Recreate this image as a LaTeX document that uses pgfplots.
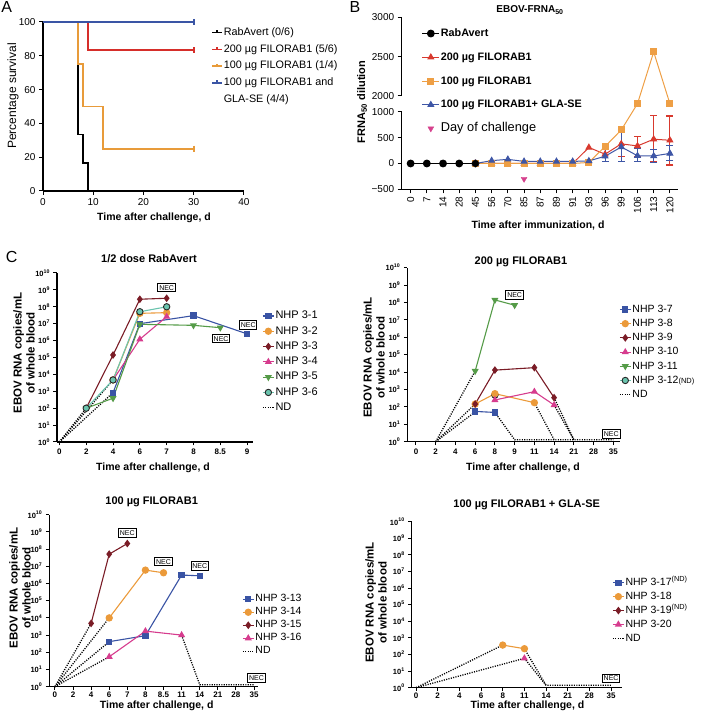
\documentclass[border=0pt]{standalone}
\usepackage{fontspec}
\setmainfont{Liberation Sans}
\usepackage{pgfplots}
\pgfplotsset{compat=1.18}
\newcommand{\fs}[1]{\fontsize{#1}{#1}\selectfont}
\definecolor{ared}{HTML}{D62E2A}
\definecolor{aorange}{HTML}{E89B3A}
\definecolor{ablue}{HTML}{3A55A5}
\definecolor{bred}{HTML}{D8392E}
\definecolor{borange}{HTML}{EE9F45}
\definecolor{bblue}{HTML}{3E56A6}
\definecolor{bmag}{HTML}{D6418D}
\definecolor{cblue}{HTML}{3953A4}
\definecolor{corange}{HTML}{EB9A3A}
\definecolor{cdred}{HTML}{7A1C26}
\definecolor{cmag}{HTML}{D63C8E}
\definecolor{cgreen}{HTML}{559B48}
\definecolor{cteal}{HTML}{6BC4AE}
\tikzset{nec/.style={draw=black, line width=1pt, fill=white, inner xsep=1.3pt, inner ysep=1.8pt, font=\fs{7}, text height=5pt, text depth=0pt},
  myND/.style={black, line width=1.3pt, dash pattern=on 1.1pt off 1.3pt},
  sA/.style={color=cblue, line width=1.1pt, mark=square*, mark size=2.6pt},
  sB/.style={color=corange, line width=1.1pt, mark=*, mark size=3.1pt},
  sC/.style={color=cdred, line width=1.1pt, mark=diamond*, mark size=3pt},
  sD/.style={color=cmag, line width=1.1pt, mark=triangle*, mark size=3pt},
  sE/.style={color=cgreen, line width=1.1pt, mark=triangle*, mark size=3pt, mark options={rotate=180}},
  sF/.style={color=cteal, line width=1.1pt, mark=*, mark size=3.2pt, mark options={fill=cteal, draw=black!85, line width=0.9pt}}}
\pgfplotsset{
  prism/.style={scale only axis, anchor=south west, axis x line=bottom, axis y line=left,
    axis line style={line width=1.2pt,-}, every tick/.style={line width=1pt,black},
    major tick length=3.5pt, tick align=outside, clip=false,
    /pgf/number format/assume math mode=true,
    legend cell align=left,
    legend style={draw=none, fill=none, anchor=north west, inner sep=0pt}}}
\begin{document}
\begin{tikzpicture}
\useasboundingbox (0,0) rectangle (703pt,720pt);
% ---------- panel labels and texts
\node[font=\fs{16}] at (6.7pt,712.5pt) {A};
\node[font=\fs{16}] at (355pt,712.5pt) {B};
\node[font=\fs{16}] at (11.7pt,463.3pt) {C};
\node[font=\fs{12}, rotate=90] at (13pt,624pt) {Percentage survival};
\node[font=\fs{10.5}\bfseries] at (154pt,502pt) {Time after challenge, d};
\node[font=\fs{10}\bfseries] at (530pt,710pt) {EBOV-FRNA\textsubscript{50}};
\node[font=\fs{11}\bfseries, rotate=90] at (362pt,618pt) {FRNA\textsubscript{50} dilution};
\node[font=\fs{10.5}\bfseries] at (538pt,494pt) {Time after immunization, d};
\node[font=\fs{11}\bfseries] at (149pt,461pt) {1/2 dose RabAvert};
\node[font=\fs{11}\bfseries] at (521pt,458.3pt) {200 µg FILORAB1};
\node[font=\fs{11}\bfseries] at (151.7pt,218.3pt) {100 µg FILORAB1};
\node[font=\fs{11}\bfseries] at (526.7pt,215pt) {100 µg FILORAB1 + GLA-SE};
\node[font=\fs{10.5}\bfseries] at (153pt,252pt) {Time after challenge, d};
\node[font=\fs{10.5}\bfseries] at (523pt,252pt) {Time after challenge, d};
\node[font=\fs{10.5}\bfseries] at (156.7pt,14.5pt) {Time after challenge, d};
\node[font=\fs{10.5}\bfseries] at (527.5pt,14.5pt) {Time after challenge, d};
\foreach \x/\y in {24/367, 374/362.5, 20/132, 376/117.5}{
  \node[font=\fontsize{11.5}{13}\selectfont\bfseries, rotate=90, align=center] at (\x pt,\y pt) {EBOV RNA copies/mL\\of whole blood};
}
% ---------- Panel A
\begin{axis}[prism, at={(43pt,529pt)}, width=201pt, height=169pt,
  xmin=0, xmax=40, ymin=0, ymax=100, xtick={0,10,...,40}, ytick={0,20,...,100},
  tick label style={font=\fs{10}}, major tick length=4pt,
  legend style={at={(0.836,0.975)}, font=\fs{10.8}, nodes={text height=8pt, text depth=2.5pt, inner sep=1pt}, row sep=4.2pt},
  legend image code/.code={\draw[#1] (0pt,0pt)--(10pt,0pt); \draw[#1] (5pt,0pt)--(5pt,2.5pt);}]
\addplot[const plot, black, line width=1.6pt] coordinates {(0,100)(7,33.33)(8,16.67)(9,0)};
\addlegendentry{RabAvert (0/6)}
\addplot[const plot, ared, line width=1.6pt, mark=|, mark indices={3}, mark size=3pt] coordinates {(0,100)(9,83.33)(30,83.33)};
\addlegendentry{200 µg FILORAB1 (5/6)}
\addplot[const plot, aorange, line width=1.6pt, mark=|, mark indices={5}, mark size=3pt] coordinates {(0,100)(7,75)(8,50)(12,25)(30,25)};
\addlegendentry{100 µg FILORAB1 (1/4)}
\addplot[const plot, ablue, line width=1.6pt, mark=|, mark indices={2}, mark size=3pt] coordinates {(0,100)(30,100)};
\addlegendentry{100 µg FILORAB1 and}
\addlegendimage{empty legend}
\addlegendentry{GLA-SE (4/4)}
\end{axis}
% ---------- Panel B (broken y axis: values above 1000 are shown on the 2000-3000 scale)
\begin{axis}[prism, at={(401.7pt,530.7pt)}, width=276.3pt, height=171.9pt,
  xmin=-0.55, xmax=16.5, ymin=-500, ymax=2830,
  y filter/.expression={y>1000 ? 1310+(y-2000)*1.519 : y},
  y axis line style={draw=none},
  xtick={0,...,16}, xticklabels={0,7,14,28,45,56,70,85,87,89,91,93,96,99,106,113,120},
  x tick label style={rotate=90, anchor=east, font=\fs{10}},
  ytick={-500,0,500,1000,1310,2069.5,2829}, yticklabels={−500,0,500,1000,2000,2500,3000},
  y tick label style={font=\fs{10}}, major tick length=4pt,
  legend style={at={(0.072,0.948)}, font=\fs{10.8}, nodes={text height=9pt, text depth=3pt, inner sep=1pt}, row sep=9.75pt}]
\draw[line width=1.2pt] (rel axis cs:0,0) -- (rel axis cs:0,0.4506);
\draw[line width=1.2pt] (rel axis cs:0,0.5437) -- (rel axis cs:0,1);
\addplot[black, line width=1pt, mark=*, mark size=3.4pt] coordinates {(0,0)(1,0)(2,0)(3,0)(4,0)};
\addlegendentry{\textbf{RabAvert}}
\addplot[bred, only marks, mark=none, forget plot, error bars/.cd, y dir=both, y explicit, error bar style={line width=1.1pt}, error mark options={rotate=90, mark size=3.5pt, line width=1.1pt}]
  coordinates {(13,380) += (0,270) -= (0,240) (14,340) += (0,180) -= (0,210) (15,470) += (0,455) -= (0,425) (16,450) += (0,470) -= (0,480)};
\addplot[bred, line width=1pt, mark=triangle*, mark size=3.2pt] coordinates {(4,0)(5,0)(6,0)(7,0)(8,0)(9,0)(10,0)(11,310)(12,180)(13,380)(14,340)(15,470)(16,450)};
\addlegendentry{\textbf{200 µg FILORAB1}}
\addplot[borange, line width=1pt, mark=square*, mark size=3pt] coordinates {(4,0)(5,0)(6,0)(7,0)(8,0)(9,0)(10,0)(11,20)(12,330)(13,650)(14,1900)(15,2560)(16,1900)};
\addlegendentry{\textbf{100 µg FILORAB1}}
\addplot[bblue, only marks, mark=none, forget plot, error bars/.cd, y dir=both, y explicit, error bar style={line width=1.1pt}, error mark options={rotate=90, mark size=3.5pt, line width=1.1pt}]
  coordinates {(12,140) += (0,150) -= (0,110) (13,320) += (0,310) -= (0,280) (14,150) += (0,150) -= (0,110) (15,145) += (0,125) -= (0,125) (16,195) += (0,145) -= (0,135)};
\addplot[bblue, line width=1pt, mark=triangle*, mark size=3.2pt] coordinates {(4,0)(5,55)(6,80)(7,40)(8,40)(9,40)(10,40)(11,50)(12,140)(13,320)(14,150)(15,145)(16,195)};
\addlegendentry{\textbf{100 µg FILORAB1+ GLA-SE}}
\addplot[bmag, only marks, mark=triangle*, mark size=3.4pt, mark options={rotate=180}] coordinates {(7,-300)};
\addlegendentry{\fs{12.8}Day of challenge}
\addplot[black, only marks, mark=*, mark size=3.4pt, forget plot] coordinates {(4,0)};
\end{axis}
% ---------- settings for the C panels
\pgfplotsset{every axis/.append style={ymode=log, ymin=1, ymax=1e10,
    ytick={1,10,100,1000,1e4,1e5,1e6,1e7,1e8,1e9,1e10},
    yticklabels={10\textsuperscript{0},10\textsuperscript{1},10\textsuperscript{2},10\textsuperscript{3},10\textsuperscript{4},10\textsuperscript{5},10\textsuperscript{6},10\textsuperscript{7},10\textsuperscript{8},10\textsuperscript{9},10\textsuperscript{10}},
    yminorticks=false, major tick length=3pt,
    x tick label style={font=\fs{8}\bfseries}, y tick label style={font=\fs{7.5}\bfseries},
    legend style={font=\fs{10.5}, nodes={text height=8pt, text depth=2.5pt, inner sep=1pt}}}}
% ---------- Panel C1
\begin{axis}[prism, at={(57pt,278pt)}, width=196pt, height=169pt, xmin=-0.09, xmax=7.22,
  xtick={0,...,7}, xticklabels={0,2,4,6,7,8,8.5,9},
  legend style={at={(1.046,0.784)}, row sep=2.8pt, font=\fs{11}},
  legend image code/.code={\draw[mark repeat=2,mark phase=2,#1] plot coordinates {(0pt,0pt) (5.5pt,0pt) (11pt,0pt)};}]
\addplot[myND, forget plot] coordinates {(0,1)(1,100)};
\addplot[myND, forget plot] coordinates {(0,1)(2,830)};
\addplot[myND, forget plot] coordinates {(0,1)(2,4700)};
\addplot[sA] coordinates {(2,830)(3,1e7)(5,3e7)(7,2.5e6)}; \addlegendentry{NHP 3-1}
\addplot[sB] coordinates {(2,4700)(3,4.1e7)(4,4.5e7)}; \addlegendentry{NHP 3-2}
\addplot[sC] coordinates {(1,100)(2,1.4e5)(3,2.8e8)(4,3.2e8)}; \addlegendentry{NHP 3-3}
\addplot[sD] coordinates {(2,4700)(3,1.2e6)(4,2.6e7)}; \addlegendentry{NHP 3-4}
\addplot[sE] coordinates {(1,100)(2,390)(3,9.2e6)(5,8e6)(6,5.8e6)}; \addlegendentry{NHP 3-5}
\addplot[sF] coordinates {(1,100)(2,4700)(3,5.1e7)(4,1e8)}; \addlegendentry{NHP 3-6}
\addlegendimage{myND}\addlegendentry{ND}
\node[nec] at (axis cs:4,1.35e9) {NEC};
\node[nec] at (axis cs:7.04,8.4e6) {NEC};
\node[nec] at (axis cs:6.03,1.3e6) {NEC};
\end{axis}
% ---------- Panel C2
\begin{axis}[prism, at={(407.3pt,278.3pt)}, width=212.7pt, height=174pt, xmin=-0.44, xmax=10.34,
  xtick={0,...,10}, xticklabels={0,2,4,6,8,9,11,14,21,28,35},
  legend style={at={(0.995,0.797)}, row sep=1.7pt},
  legend image code/.code={\draw[mark repeat=2,mark phase=2,#1] plot coordinates {(0pt,0pt) (5.5pt,0pt) (11pt,0pt)};}]
\addplot[myND, forget plot] coordinates {(1,1)(3,1.15e4)};
\addplot[myND, forget plot] coordinates {(1,1)(3,146)};
\addplot[myND, forget plot] coordinates {(1,1)(3,52)};
\addplot[myND, forget plot] coordinates {(4,48)(5,1.3)(10,1.3)};
\addplot[myND, forget plot] coordinates {(6,175)(7,1.3)};
\addplot[myND, forget plot] coordinates {(7,340)(8,1.3)};
\addplot[myND, forget plot] coordinates {(7,128)(8,1.3)};
\addplot[sF, forget plot] coordinates {(4,480)};
\addplot[sA] coordinates {(3,55)(4,48)}; \addlegendentry{NHP 3-7}
\addplot[sB] coordinates {(3,146)(4,575)(6,175)}; \addlegendentry{NHP 3-8}
\addplot[sC] coordinates {(3,146)(4,1.3e4)(6,1.8e4)(7,340)}; \addlegendentry{NHP 3-9}
\addplot[sD] coordinates {(4,250)(6,750)(7,128)}; \addlegendentry{NHP 3-10}
\addplot[sE] coordinates {(3,1.15e4)(4,1.4e8)(5,7e7)}; \addlegendentry{NHP 3-11}
\addlegendimage{sF}\addlegendentry{NHP 3-12{\fs{7.5}(ND)}}
\addlegendimage{myND}\addlegendentry{ND}
\node[nec] at (axis cs:5,2.7e8) {NEC};
\node[nec] at (axis cs:9.9,2.8) {NEC};
\end{axis}
% ---------- Panel C3
\begin{axis}[prism, at={(49.3pt,33.3pt)}, width=208.7pt, height=172pt, xmin=-0.31, xmax=11.22,
  xtick={0,...,11}, xticklabels={0,2,4,6,7,8,8.5,11,14,21,28,35}, xticklabel shift=-2pt,
  legend style={at={(0.923,0.546)}, row sep=0.5pt},
  legend image code/.code={\draw[mark repeat=2,mark phase=2,#1] plot coordinates {(0pt,0pt) (5.5pt,0pt) (11pt,0pt)};}]
\addplot[myND, forget plot] coordinates {(0,1)(2,4800)};
\addplot[myND, forget plot] coordinates {(0,1)(3,1e4)};
\addplot[myND, forget plot] coordinates {(0,1)(3,415)};
\addplot[myND, forget plot] coordinates {(0,1)(3,55)};
\addplot[myND, forget plot] coordinates {(7,1000)(8,1.3)(11,1.3)};
\addplot[sA] coordinates {(3,415)(5,925)(7,3.1e6)(8,2.8e6)}; \addlegendentry{NHP 3-13}
\addplot[sB] coordinates {(3,1e4)(5,6e6)(6,4.2e6)}; \addlegendentry{NHP 3-14}
\addplot[sC] coordinates {(2,4800)(3,5.1e7)(4,2.1e8)}; \addlegendentry{NHP 3-15}
\addplot[sD] coordinates {(3,55)(5,1700)(7,1000)}; \addlegendentry{NHP 3-16}
\addlegendimage{myND}\addlegendentry{ND}
\node[nec] at (axis cs:4,8.3e8) {NEC};
\node[nec] at (axis cs:6,1.9e7) {NEC};
\node[nec] at (axis cs:8,1e7) {NEC};
\node[nec] at (axis cs:11.14,3.2) {NEC};
\end{axis}
% ---------- Panel C4
\begin{axis}[prism, at={(411.7pt,32.3pt)}, width=210pt, height=166pt, xmin=-0.2, xmax=9.49,
  xtick={0,...,9}, xticklabels={0,2,4,6,8,11,14,21,28,35}, xticklabel shift=-2pt,
  legend style={at={(0.954,0.671)}, row sep=1.4pt},
  legend image code/.code={\draw[mark repeat=2,mark phase=2,#1] plot coordinates {(0pt,0pt) (5.5pt,0pt) (11pt,0pt)};}]
\addplot[myND, forget plot] coordinates {(0,1)(4,370)};
\addplot[myND, forget plot] coordinates {(0,1)(5,59)};
\addplot[myND, forget plot] coordinates {(5,224)(6,1.4)};
\addplot[myND, forget plot] coordinates {(5,59)(6,1.4)(9,1.4)};
\addlegendimage{sA}\addlegendentry{NHP 3-17\textsuperscript{(ND)}}
\addplot[sB] coordinates {(4,370)(5,224)}; \addlegendentry{NHP 3-18}
\addlegendimage{sC}\addlegendentry{NHP 3-19\textsuperscript{(ND)}}
\addplot[sD] coordinates {(5,59)}; \addlegendentry{NHP 3-20}
\addlegendimage{myND}\addlegendentry{ND}
\node[nec] at (axis cs:9,3.6) {NEC};
\end{axis}
\end{tikzpicture}
\end{document}
